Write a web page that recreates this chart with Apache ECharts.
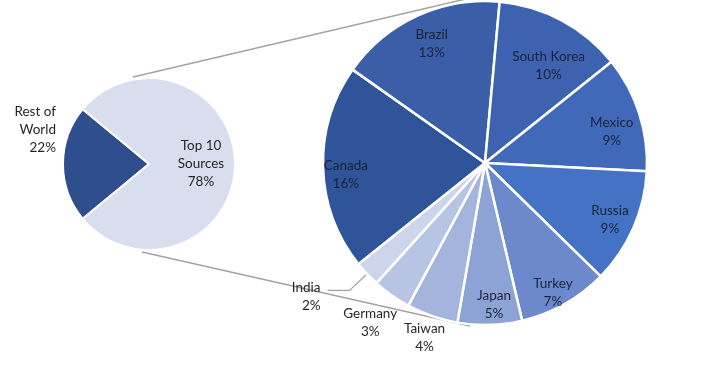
<!DOCTYPE html>
<html>
<head>
<meta charset="utf-8">
<script src="https://cdn.jsdelivr.net/npm/echarts@6/dist/echarts.min.js"></script>
<style>
html,body{margin:0;padding:0;background:#fff;}
#c{width:710px;height:370px;}
</style>
</head>
<body>
<div id="c"></div>
<script>
// ---- data ----
const mainCategories = ['Rest of World', 'Top 10 Sources'];
const mainLabels = ['Rest of\nWorld', 'Top 10\nSources'];
const mainShares = [22, 78];

const sourceCategories = ['Canada', 'Brazil', 'South Korea', 'Mexico', 'Russia', 'Turkey', 'Japan', 'Taiwan', 'Germany', 'India'];
const sourceShares = [16, 13, 10, 9, 9, 7, 5, 4, 3, 2];

// ---- styles ----
const mainColors = ['#2E4E8E', '#D9DEEE'];
const sourceColors = ['#30549A', '#3A5EA8', '#3D63B0', '#4169B9', '#4472C4', '#6C8ACB', '#8EA3D5', '#A5B4DC', '#B8C4E4', '#CDD5EC'];
const outsideInner = ['Taiwan', 'Germany'];   // labels below the pie
const outsideLine = ['India'];                // label with leader line
// small label nudges (pixels) to follow the reference's label placement
const labelNudge = {
  'Canada': [-5, 8], 'Brazil': [3, 2], 'South Korea': [0, 21], 'Mexico': [-1, 10],
  'Russia': [2, 3], 'Turkey': [2, 13], 'Japan': [5, 7], 'Germany': [-8, 8], 'India': [-5, 6]
};

const FONT = 'Lato';
const FS = 13.5;
const TEXT = '#1a2238';

const LC = [149, 164], LR = 86;   // primary pie
const RC = [485, 163], RR = 162;  // secondary pie

const chart = echarts.init(document.getElementById('c'), null, {renderer: 'canvas'});

const sumSrc = sourceShares.reduce((a, b) => a + b, 0);
// primary: "Rest of World" centred on the left (9 o'clock)
const mainStart = 90 - (270 - 360 * mainShares[0] / 100 / 2);
// secondary: Brazil ends slightly right of 12 o'clock
const srcStart = 90 - 360 * (1 - (sourceShares[0] + sourceShares[1]) / sumSrc) - 5.2;

function nudge(names) {
  return function (p) {
    const d = labelNudge[names[p.dataIndex]];
    if (d) return {dx: d[0], dy: d[1]};
  };
}

const option = {
  animation: false,
  backgroundColor: '#ffffff',
  graphic: [
    {
      type: 'line', z: 0, silent: true,
      shape: {x1: LC[0] - 16, y1: LC[1] - 87, x2: RC[0] - 15, y2: RC[1] - RR - 3},
      style: {stroke: '#a3a3a3', lineWidth: 1.5}
    },
    {
      type: 'line', z: 0, silent: true,
      shape: {x1: LC[0] - 7, y1: LC[1] + 88, x2: RC[0] - 15, y2: RC[1] + RR + 1},
      style: {stroke: '#a3a3a3', lineWidth: 1.5}
    }
  ],
  series: [
    // primary pie
    {
      type: 'pie', silent: true, z: 3,
      center: LC, radius: [0, LR],
      startAngle: mainStart,
      clockwise: true,
      avoidLabelOverlap: false,
      itemStyle: {borderColor: '#fff', borderWidth: 2},
      labelLayout: function (p) {
        if (p.dataIndex === 0) return {dx: 8, dy: -34};
        return {dx: 6};
      },
      data: mainCategories.map((n, i) => ({
        name: mainLabels[i], value: mainShares[i],
        itemStyle: {color: mainColors[i]},
        label: i === 0
          ? {show: true, position: 'outside', formatter: '{b}\n{c}%', color: '#262626', fontFamily: FONT, fontSize: FS, lineHeight: 18, align: 'center'}
          : {show: true, position: 'inside', formatter: '{b}\n{c}%', color: '#262626', fontFamily: FONT, fontSize: FS, lineHeight: 18},
        labelLine: i === 0 ? {show: false, length: 6, length2: 4} : {show: false}
      }))
    },
    // secondary pie (visible)
    {
      type: 'pie', silent: true, z: 3,
      center: RC, radius: [0, RR],
      startAngle: srcStart,
      clockwise: true,
      avoidLabelOverlap: false,
      itemStyle: {borderColor: '#fff', borderWidth: 2.5},
      labelLayout: nudge(sourceCategories),
      data: sourceCategories.map((n, i) => ({
        name: n, value: sourceShares[i],
        itemStyle: {color: sourceColors[i]},
        label: outsideLine.includes(n)
          ? {show: true, position: 'outside', formatter: '{b}\n{c}%', color: '#262626', fontFamily: FONT, fontSize: FS, lineHeight: 18, distanceToLabelLine: 2}
          : {show: false},
        labelLine: outsideLine.includes(n)
          ? {show: true, length: 24, length2: 22, lineStyle: {color: '#a3a3a3', width: 1.2}}
          : {show: false}
      }))
    },
    // label ring for inside labels
    {
      type: 'pie', silent: true, z: 4,
      center: RC, radius: [RR * 0.62, RR],
      startAngle: srcStart,
      clockwise: true,
      avoidLabelOverlap: false,
      itemStyle: {color: 'rgba(0,0,0,0)'},
      labelLine: {show: false},
      labelLayout: nudge(sourceCategories),
      data: sourceCategories.map((n, i) => ({
        name: n, value: sourceShares[i],
        label: {
          show: !(outsideInner.includes(n) || outsideLine.includes(n)),
          position: 'inside', formatter: '{b}\n{c}%', color: TEXT,
          fontFamily: FONT, fontSize: FS, lineHeight: 18
        }
      }))
    },
    // label ring for labels just outside the pie
    {
      type: 'pie', silent: true, z: 4,
      center: RC, radius: [RR, RR * 1.25],
      startAngle: srcStart,
      clockwise: true,
      avoidLabelOverlap: false,
      itemStyle: {color: 'rgba(0,0,0,0)'},
      labelLine: {show: false},
      labelLayout: nudge(sourceCategories),
      data: sourceCategories.map((n, i) => ({
        name: n, value: sourceShares[i],
        label: {
          show: outsideInner.includes(n),
          position: 'inside', formatter: '{b}\n{c}%', color: '#262626',
          fontFamily: FONT, fontSize: FS, lineHeight: 18
        }
      }))
    }
  ]
};

chart.setOption(option);
</script>
</body>
</html>
